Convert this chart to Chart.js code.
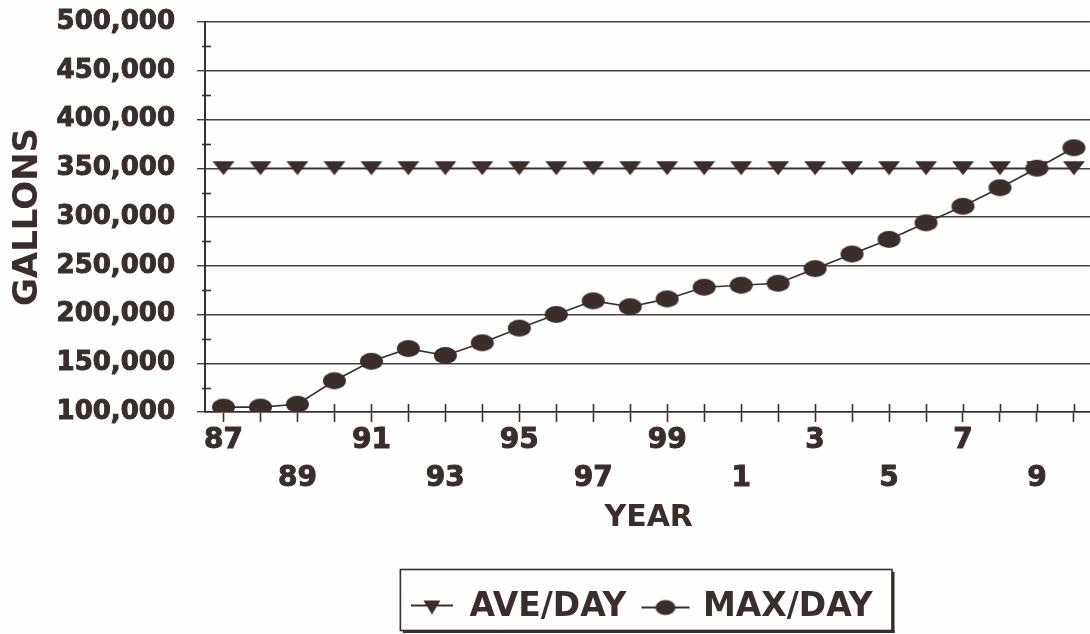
<!DOCTYPE html>
<html>
<head>
<meta charset="utf-8">
<title>Water Use – Gallons per Day</title>
<script src="https://cdn.jsdelivr.net/npm/chart.js@4.4.1/dist/chart.umd.min.js"></script>
<style>
  html, body { margin: 0; padding: 0; background: #fefefe; overflow: hidden; }
  #wrap { width: 1090px; height: 634px; overflow: hidden; position: relative; }
  canvas { display: block; }
</style>
</head>
<body>
<div id="wrap"><canvas id="chart" width="1103" height="634"></canvas></div>
<script>
// Year labels (two-digit, 1987 through 2010)
const years = ['87', '88', '89', '90', '91', '92', '93', '94', '95', '96', '97', '98',
               '99', '0', '1', '2', '3', '4', '5', '6', '7', '8', '9', '10'];

// Average daily use (gallons)
const aveDay = [350000, 350000, 350000, 350000, 350000, 350000, 350000, 350000,
                350000, 350000, 350000, 350000, 350000, 350000, 350000, 350000,
                350000, 350000, 350000, 350000, 350000, 350000, 350000, 350000];

// Maximum daily use (gallons)
const maxDay = [105000, 105000, 108000, 132000, 152000, 165000, 158000, 171000,
                186000, 200000, 214000, 208000, 216000, 228000, 230000, 232000,
                247000, 262000, 277000, 294000, 311000, 330000, 350000, 371000];

// Value axis range
const yMin = 100000;
const yMax = 500000;
const yStep = 50000;

const ink = '#3a2e2c';
const gridInk = '#4b3f3c';
const fontFamily = '"DejaVu Sans", "Liberation Sans", Arial, sans-serif';

// Marker glyphs: flattened downward triangle and a wide dot
function makeCanvas(w, h, draw) {
  const c = document.createElement('canvas');
  c.width = w; c.height = h;
  const g = c.getContext('2d');
  g.fillStyle = ink; g.strokeStyle = ink;
  draw(g, w, h);
  return c;
}
function triangle(g, cx, cy, w, h) {
  g.beginPath();
  g.moveTo(cx - w / 2, cy - h / 2);
  g.lineTo(cx + w / 2, cy - h / 2);
  g.lineTo(cx, cy + h / 2);
  g.closePath();
  g.fill();
}
function dot(g, cx, cy, w, h) {
  g.beginPath();
  g.ellipse(cx, cy, w / 2, h / 2, 0, 0, Math.PI * 2);
  g.fill();
}
const triMarker = makeCanvas(24, 16, (g, w, h) => triangle(g, w / 2, h / 2, 22, 14));
const dotMarker = makeCanvas(25, 19, (g, w, h) => dot(g, w / 2, h / 2, 23, 17));

const triLegend = makeCanvas(44, 18, (g, w, h) => {
  g.lineWidth = 2;
  g.beginPath(); g.moveTo(1, 7); g.lineTo(43, 7); g.stroke();
  triangle(g, w / 2, 9, 17, 14);
});
const dotLegend = makeCanvas(50, 18, (g, w, h) => {
  g.lineWidth = 2;
  g.beginPath(); g.moveTo(1, 9); g.lineTo(49, 9); g.stroke();
  dot(g, w / 2, 9, 20, 15);
});
const legendIcons = [triLegend, dotLegend];
const legendShift = -7;

// Small crossing marks on both axes and the framed legend box
const axisDecor = {
  id: 'axisDecor',
  afterLayout(chart) {
    // nudge the legend row slightly left of the plot centre
    const lg = chart.legend;
    if (lg) { lg.left += legendShift; lg.right += legendShift; }
  },
  afterDraw(chart) {
    const ctx = chart.ctx;
    const xs = chart.scales.x, ys = chart.scales.y;
    ctx.save();
    ctx.strokeStyle = ink;
    ctx.lineWidth = 1.6;
    // x ticks poke slightly above the baseline
    for (let i = 0; i < xs.ticks.length; i++) {
      const px = Math.round(xs.getPixelForTick(i)) + 0.5;
      ctx.beginPath(); ctx.moveTo(px, ys.bottom - 8); ctx.lineTo(px, ys.bottom); ctx.stroke();
    }
    // minor marks on the value axis halfway between labelled ticks
    for (let i = 0; i < ys.ticks.length - 1; i++) {
      const mid = (ys.ticks[i].value + ys.ticks[i + 1].value) / 2;
      const py = Math.round(ys.getPixelForValue(mid)) + 0.5;
      ctx.beginPath(); ctx.moveTo(xs.left - 3, py); ctx.lineTo(xs.left + 6, py); ctx.stroke();
    }
    // legend frame with a heavier shadow edge
    const lg = chart.legend;
    if (lg && lg.legendHitBoxes && lg.legendHitBoxes.length) {
      const hb = lg.legendHitBoxes;
      const l = Math.min(...hb.map(b => b.left)) - 11;
      const r = Math.max(...hb.map(b => b.left + b.width)) + 19;
      const t = lg.top - 4;
      const b = lg.bottom - 4;
      ctx.lineWidth = 1.6;
      ctx.strokeRect(l + 0.5, t + 0.5, r - l, b - t);
      ctx.fillStyle = ink;
      ctx.fillRect(r, t + 3, 3, b - t);
      ctx.fillRect(l + 3, b, r - l, 3);
    }
    ctx.restore();
  }
};

new Chart(document.getElementById('chart'), {
  type: 'line',
  data: {
    labels: years,
    datasets: [
      {
        label: 'AVE/DAY',
        data: aveDay,
        borderColor: ink,
        backgroundColor: ink,
        borderWidth: 1.5,
        pointStyle: triMarker,
        pointRadius: 8,
        tension: 0,
        order: 1
      },
      {
        label: 'MAX/DAY',
        data: maxDay,
        borderColor: ink,
        backgroundColor: ink,
        borderWidth: 1.6,
        pointStyle: dotMarker,
        pointRadius: 9,
        tension: 0,
        order: 0
      }
    ]
  },
  options: {
    responsive: false,
    animation: false,
    devicePixelRatio: 1,
    layout: { padding: { top: 22, left: 0, right: 0, bottom: 0 } },
    plugins: {
      tooltip: { enabled: false },
      legend: {
        position: 'bottom',
        fullSize: false,
        labels: {
          usePointStyle: true,
          pointStyleWidth: 42,
          padding: 18,
          color: ink,
          font: { family: fontFamily, size: 33, weight: 'bold' },
          sort: (a, b) => a.datasetIndex - b.datasetIndex,
          generateLabels(chart) {
            const items = Chart.defaults.plugins.legend.labels.generateLabels(chart);
            items.forEach(it => { it.pointStyle = legendIcons[it.datasetIndex]; });
            return items;
          }
        }
      }
    },
    scales: {
      x: {
        offset: true,
        afterFit(scale) { scale.height = 161; },
        grid: {
          drawOnChartArea: false,
          drawTicks: true,
          tickLength: 10,
          tickWidth: 1.6,
          tickColor: ink,
          offset: false
        },
        border: { display: true, color: ink, width: 1.6 },
        ticks: {
          autoSkip: false,
          maxRotation: 0,
          minRotation: 0,
          padding: 0,
          color: ink,
          textStrokeColor: ink,
          textStrokeWidth: 1,
          font: { family: fontFamily, size: 28, weight: 'bold', lineHeight: 1.36 },
          callback(value, index) {
            const lab = this.getLabelForValue(value);
            if (index % 2) return '';
            return (index / 2) % 2 ? ['', lab] : lab;
          }
        },
        title: {
          display: true,
          text: 'YEAR',
          color: ink,
          font: { family: fontFamily, size: 30, weight: 'bold' },
          padding: { top: 0, bottom: 37 }
        }
      },
      y: {
        min: yMin,
        max: yMax,
        afterFit(scale) {
          scale.width = 205;
          // the top and bottom labels may overhang the plot edge
          scale.paddingTop = 0;
          scale.paddingBottom = 0;
        },
        grid: {
          color: gridInk,
          lineWidth: 1.4,
          tickLength: 8,
          tickColor: gridInk
        },
        border: { display: true, color: ink, width: 2 },
        ticks: {
          stepSize: yStep,
          padding: 22,
          color: ink,
          textStrokeColor: ink,
          textStrokeWidth: 1,
          font: { family: fontFamily, size: 26, weight: 'bold' },
          callback: v => v.toLocaleString('en-US')
        },
        title: {
          display: true,
          text: 'GALLONS',
          color: ink,
          font: { family: fontFamily, size: 34, weight: 'bold' },
          padding: { top: 8, bottom: 0 }
        }
      }
    }
  },
  plugins: [axisDecor]
});
</script>
</body>
</html>
